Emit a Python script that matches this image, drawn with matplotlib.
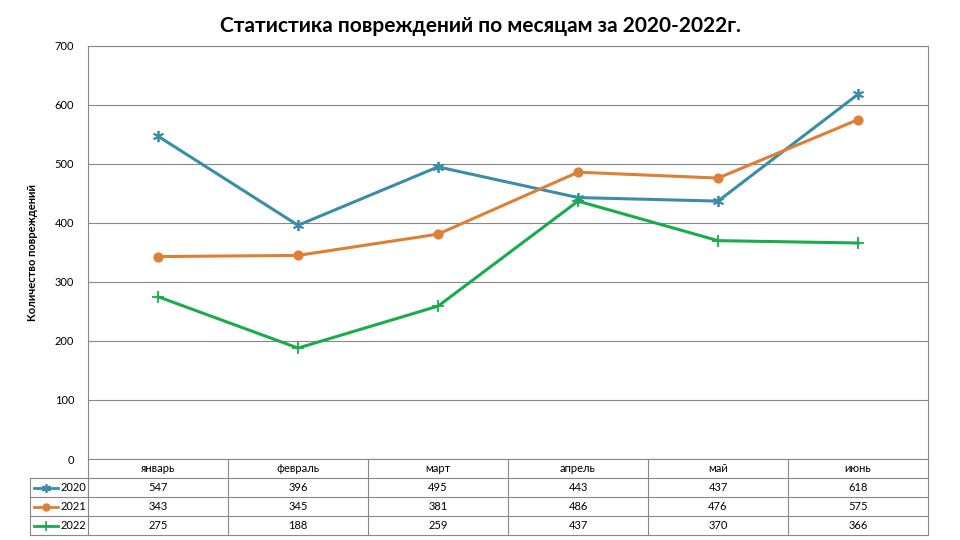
import matplotlib
matplotlib.use("Agg")
import matplotlib.pyplot as plt
from matplotlib.transforms import blended_transform_factory

plt.rcParams["font.family"] = "Lato"

months = ["январь", "февраль", "март", "апрель", "май", "июнь"]
years = ["2020", "2021", "2022"]
v2020 = [547, 396, 495, 443, 437, 618]
v2021 = [343, 345, 381, 486, 476, 575]
v2022 = [275, 188, 259, 437, 370, 366]
series = [v2020, v2021, v2022]
colors = ["#3a8da6", "#dd7f35", "#1aab4c"]
markers = [(6, 2, 0), "o", "+"]
msizes = [8, 6, 9]

fig = plt.figure(figsize=(9.6, 5.4), dpi=100)
ax = fig.add_axes([0.0917, 0.15, 0.875, 0.765])
x = list(range(len(months)))

for vals, c, m, ms in zip(series, colors, markers, msizes):
    ax.plot(x, vals, color=c, lw=2.2, marker=m, ms=ms, mew=1.3, zorder=3)

ax.set_xlim(-0.5, 5.5)
ax.set_ylim(0, 700)
ax.set_yticks(range(0, 701, 100))
ax.set_xticks([])
ax.grid(axis="y", color="#888888", lw=0.8)
ax.set_axisbelow(True)
for s in ax.spines.values():
    s.set_color("#888888")
    s.set_linewidth(0.8)
ax.tick_params(axis="y", length=0, labelsize=8, pad=10)
ax.set_ylabel("Количество повреждений", fontsize=8, fontweight="bold", labelpad=12)
fig.suptitle("Статистика повреждений по месяцам за 2020-2022г.", fontsize=15,
             fontweight="bold", y=0.97)

# data table below the plot
tr = blended_transform_factory(ax.transData, ax.transAxes)
rh = 0.046
gc = "#888888"
left = -0.914
# horizontal lines
for i in range(1, 5):
    y = -i * rh
    ax.plot([left if i > 1 else -0.5, 5.5], [y, y], transform=tr, color=gc, lw=0.8, clip_on=False)
ax.plot([left, -0.5], [-rh, -rh], transform=tr, color=gc, lw=0.8, clip_on=False)
ax.plot([left, left], [-rh, -4 * rh], transform=tr, color=gc, lw=0.8, clip_on=False)
for k in range(7):
    ax.plot([k - 0.5, k - 0.5], [0, -4 * rh], transform=tr, color=gc, lw=0.8, clip_on=False)
for k, mname in enumerate(months):
    ax.text(k, -0.5 * rh, mname, transform=tr, ha="center", va="center", fontsize=8)
for r, (yr, vals, c, m, ms) in enumerate(zip(years, series, colors, markers, msizes)):
    yc = -(r + 1.5) * rh
    ax.plot([left + 0.03, left + 0.2], [yc, yc], transform=tr, color=c, lw=2, clip_on=False)
    ax.plot([left + 0.115], [yc], transform=tr, color=c, marker=m, ms=ms * 0.8, mew=1.2, clip_on=False)
    ax.text(left + 0.22, yc, yr, transform=tr, ha="left", va="center", fontsize=8)
    for k, v in enumerate(vals):
        ax.text(k, yc, str(v), transform=tr, ha="center", va="center", fontsize=8)

fig.savefig("out.png", dpi=100)
